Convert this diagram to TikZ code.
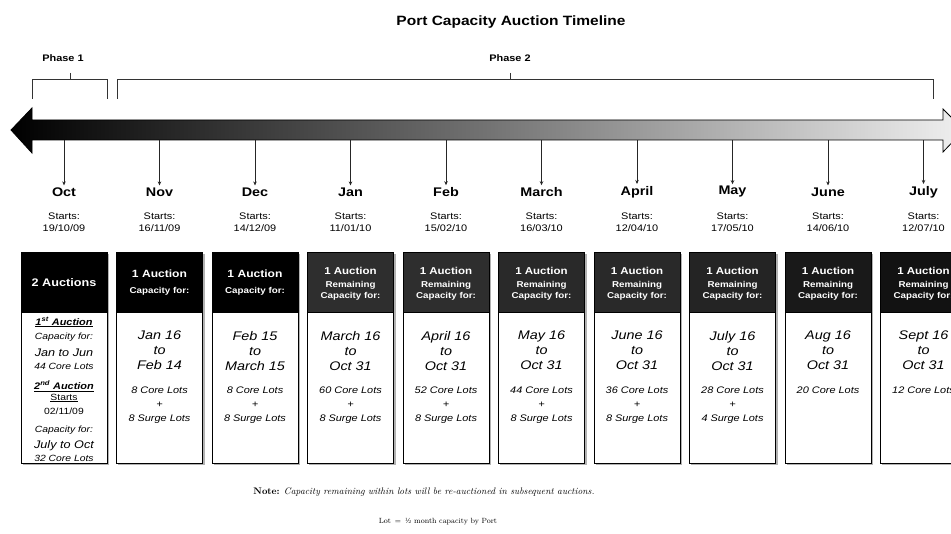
\documentclass[tikz,border=0pt]{standalone}
\usepackage{fontspec}
\newfontfamily\arial[FakeStretch=1.15]{Liberation Sans}
\usetikzlibrary{arrows.meta}
\begin{document}
\begin{tikzpicture}[x=1pt,y=-1pt,
  titlelbl/.style={font=\arial\bfseries\fontsize{13.5}{16}\selectfont},
  phaselbl/.style={font=\arial\bfseries\fontsize{9.5}{10}\selectfont, inner sep=1pt},
  bracket/.style={draw=black!80, line width=0.9pt},
  monthlbl/.style={font=\arial\bfseries\fontsize{12.5}{14}\selectfont, inner sep=2pt},
  startlbl/.style={font=\arial\fontsize{9.5}{11.5}\selectfont, align=center, inner sep=0pt},
  tick/.style={draw=black!85, line width=0.6pt, -{Stealth[length=4pt,width=3.5pt]}},
  boxhead/.style={draw=black, line width=1pt, minimum width=86pt, minimum height=60pt, inner sep=0pt, anchor=north, text=white, align=center},
  boxbody/.style={draw=black, line width=1pt, fill=white, minimum width=86pt, minimum height=151pt, inner sep=0pt, anchor=north},
  shadowbox/.style={fill=black!30},
  headbig/.style={font=\arial\bfseries\fontsize{11}{13}\selectfont},
  datetxt/.style={font=\arial\itshape\fontsize{12.5}{15}\selectfont, align=center, inner sep=0pt},
  lottxt/.style={font=\arial\itshape\fontsize{9.5}{14}\selectfont, align=center, inner sep=0pt},
  octtxt/.style={font=\arial\itshape\fontsize{9}{10}\selectfont, inner sep=0pt},
  octbig/.style={font=\arial\itshape\fontsize{11}{12}\selectfont, inner sep=0pt},
  notetxt/.style={font=\fontsize{9.5}{10}\selectfont, inner sep=0pt}
]
\useasboundingbox (0,0) rectangle (951,534);
\clip (0,0) rectangle (951,534);
\fill[white] (0,0) rectangle (951,534);

% title
\node[titlelbl] (title) at (511,22) {Port Capacity Auction Timeline};

% phase brackets
\node[phaselbl] (p1) at (63,58) {Phase 1};
\coordinate (p1l) at (32,99);
\coordinate (p1r) at (107,99);
\coordinate (p1t) at (70,73);
\draw[bracket] (p1l) |- (p1r |- 0,79) -- (p1r);
\draw[bracket] (p1t) -- (70,79);
\node[phaselbl] (p2) at (510,58) {Phase 2};
\coordinate (p2l) at (117,99);
\coordinate (p2r) at (933,99);
\coordinate (p2t) at (510,73);
\draw[bracket] (p2l) |- (p2r |- 0,79) -- (p2r);
\draw[bracket] (p2t) -- (510,79);

% big shaded arrow
\draw[black, line width=0.8pt, left color=black, right color=black!6, middle color=black!55, shading angle=90]
  (11,130) -- (32,108) -- (32,120) -- (943,120) -- (943,109) -- (964,130)
  -- (943,152) -- (943,140) -- (32,140) -- (32,153) -- cycle;

% months
\foreach \i/\mon/\st in {0/Oct/{19/10/09},1/Nov/{16/11/09},2/Dec/{14/12/09},3/Jan/{11/01/10},4/Feb/{15/02/10},5/March/{16/03/10},6/April/{12/04/10},7/May/{17/05/10},8/June/{14/06/10},9/July/{12/07/10}}{
  \pgfmathsetmacro{\cx}{64+95.5*\i}
  \coordinate (t\i) at (\cx,140.5);
  \node[monthlbl] (m\i) at (\cx,192) {\mon};
  \draw[tick] (t\i) -- (m\i.north);
  \node[startlbl] (s\i) at (\cx,222) {Starts:\\\st};
}

% boxes
\foreach \i/\hcol in {0/black,1/black,2/black,3/black!82,4/black!82,5/black!84,6/black!84,7/black!86,8/black!90,9/black!93}{
  \pgfmathsetmacro{\cx}{64+95.5*\i}
  \fill[shadowbox] (\cx-41.5,254) rectangle (\cx+45,465);
  \node[boxhead, fill=\hcol] (h\i) at (\cx,252) {};
  \node[boxbody] (b\i) at (\cx,312) {};
}

% header texts
\node[headbig, text=white] (ht0) at (h0) {2 Auctions};
\foreach \i in {1,2}{
  \node[text=white, align=center, inner sep=0pt] (ht\i) at (h\i) {{\arial\bfseries\fontsize{10.5}{13}\selectfont 1 Auction}\\[4pt]{\arial\bfseries\fontsize{8.5}{9}\selectfont Capacity for:}};
}
\foreach \i in {3,4,5,6,7,8,9}{
  \node[text=white, align=center, inner sep=0pt] (ht\i) at ([yshift=-1pt]h\i) {{\arial\bfseries\fontsize{10}{11}\selectfont 1 Auction}\\[1pt]{\arial\bfseries\fontsize{8.5}{12}\selectfont Remaining}\\[-1pt]{\arial\bfseries\fontsize{8.5}{12}\selectfont Capacity for:}};
}

% body texts
\foreach \i/\da/\db/\lots in {1/{Jan 16}/{Feb 14}/{8 Core Lots\\+\\8 Surge Lots},
  2/{Feb 15}/{March 15}/{8 Core Lots\\+\\8 Surge Lots},
  3/{March 16}/{Oct 31}/{60 Core Lots\\+\\8 Surge Lots},
  4/{April 16}/{Oct 31}/{52 Core Lots\\+\\8 Surge Lots},
  5/{May 16}/{Oct 31}/{44 Core Lots\\+\\8 Surge Lots},
  6/{June 16}/{Oct 31}/{36 Core Lots\\+\\8 Surge Lots},
  7/{July 16}/{Oct 31}/{28 Core Lots\\+\\4 Surge Lots},
  8/{Aug 16}/{Oct 31}/{20 Core Lots},
  9/{Sept 16}/{Oct 31}/{12 Core Lots}}{
  \pgfmathsetmacro{\cx}{64+95.5*\i}
  \node[datetxt, anchor=north] (d\i) at (\cx,331) {\da\\to\\\db};
  \node[lottxt, anchor=north] (l\i) at (\cx,387) {\lots};
}

% October body
\node[octtxt, font=\arial\bfseries\itshape\fontsize{9.5}{10}\selectfont] (o1) at (64,322) {\underline{1\textsuperscript{st} Auction}};
\node[octtxt] (o2) at (64,337) {Capacity for:};
\node[octbig] (o3) at (64,353) {Jan to Jun};
\node[octtxt] (o4) at (64,366) {44 Core Lots};
\node[octtxt, font=\arial\bfseries\itshape\fontsize{9.5}{10}\selectfont] (o5) at (64,386) {\underline{2\textsuperscript{nd} Auction}};
\node[octtxt, font=\arial\fontsize{9}{10}\selectfont] (o6) at (64,398) {\underline{Starts}};
\node[octtxt, font=\arial\fontsize{9}{10}\selectfont] (o7) at (64,411) {02/11/09};
\node[octtxt] (o8) at (64,430) {Capacity for:};
\node[octbig] (o9) at (64,446) {July to Oct};
\node[octtxt] (o10) at (64,458) {32 Core Lots};

% notes
\node[notetxt] (note) at (424,492) {\textbf{Note:} \textit{Capacity remaining within lots will be re-auctioned in subsequent auctions.}};
\node[notetxt, font=\fontsize{7.5}{9}\selectfont] (lot) at (438,522) {Lot \,=\, ½ month capacity by Port};
\end{tikzpicture}
\end{document}
